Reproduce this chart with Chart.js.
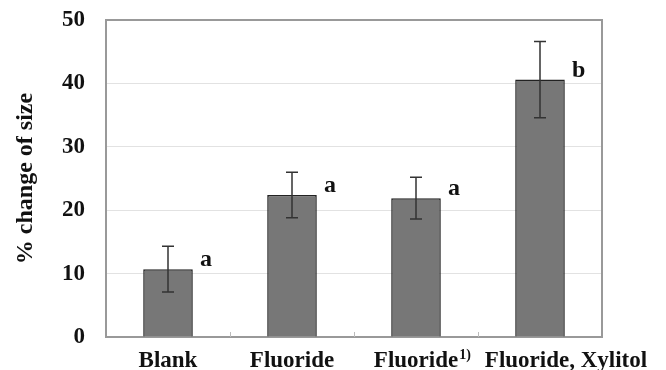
<!DOCTYPE html>
<html>
<head>
<meta charset="utf-8">
<script src="https://cdn.jsdelivr.net/npm/chart.js@4/dist/chart.umd.min.js"></script>
<style>
  html, body { margin: 0; padding: 0; background: #fff; }
  #wrap { width: 666px; height: 370px; position: relative; }
</style>
</head>
<body>
<div id="wrap"><canvas id="c"></canvas></div>
<script>
/* Daten */
const categories = ['Blank', 'Fluoride', 'Fluoride¹⁾', 'Fluoride, Xylitol'];
const means = [10.7, 22.4, 21.9, 40.6];
const errors = [3.6, 3.6, 3.3, 6.0];
const letters = ['a', 'a', 'a', 'b'];
const yTicks = [0, 10, 20, 30, 40, 50];

const FONT = '"Liberation Serif", "Times New Roman", serif';
const SUP = { '¹': '1', '⁾': ')' };

// Fehlerbalken + Signifikanz-Buchstaben
const errorBars = {
  id: 'errorBars',
  afterDatasetsDraw(c) {
    const { ctx } = c; const meta = c.getDatasetMeta(0); const y = c.scales.y;
    ctx.save();
    ctx.strokeStyle = '#333'; ctx.lineWidth = 1.5;
    meta.data.forEach((bar, i) => {
      const yt = y.getPixelForValue(means[i] + errors[i]);
      const yb = y.getPixelForValue(means[i] - errors[i]);
      ctx.beginPath();
      ctx.moveTo(bar.x, yt); ctx.lineTo(bar.x, yb);
      ctx.moveTo(bar.x - 6, yt); ctx.lineTo(bar.x + 6, yt);
      ctx.moveTo(bar.x - 6, yb); ctx.lineTo(bar.x + 6, yb);
      ctx.stroke();
    });
    ctx.fillStyle = '#111'; ctx.font = 'bold 24px ' + FONT;
    ctx.textAlign = 'left'; ctx.textBaseline = 'alphabetic';
    meta.data.forEach((bar, i) => {
      ctx.fillText(letters[i], bar.x + 32, y.getPixelForValue(means[i]) - 3);
    });
    ctx.restore();
  },
};

// Rahmen, innere Teilstriche, x-Beschriftung (mit Hochzahl)
const frame = {
  id: 'frame',
  afterDraw(c) {
    const { ctx, chartArea: a } = c; const x = c.scales.x;
    ctx.save(); ctx.strokeStyle = '#999'; ctx.lineWidth = 2;
    ctx.beginPath(); ctx.moveTo(a.left, a.top); ctx.lineTo(a.right, a.top); ctx.lineTo(a.right, a.bottom); ctx.stroke();
    ctx.strokeStyle = '#bbb'; ctx.lineWidth = 1;
    const step = (a.right - a.left) / categories.length;
    for (let i = 1; i < categories.length; i++) {
      const px = Math.round(a.left + step * i) + 0.5;
      ctx.beginPath(); ctx.moveTo(px, a.bottom); ctx.lineTo(px, a.bottom - 5); ctx.stroke();
    }
    // Labels
    ctx.fillStyle = '#111'; ctx.textBaseline = 'alphabetic'; ctx.textAlign = 'left';
    const big = 'bold 23px ' + FONT, small = 'bold 14px ' + FONT;
    let prevRight = -1e9;
    categories.forEach((lab, i) => {
      const base = lab.replace(/[¹⁾]/g, '');
      const sup = lab.split('').filter(ch => SUP[ch]).map(ch => SUP[ch]).join('');
      ctx.font = big; const wb = ctx.measureText(base).width;
      ctx.font = small; const ws = sup ? ctx.measureText(sup).width + 1 : 0;
      let left = x.getPixelForValue(i) - wb / 2;
      if (left < prevRight + 14) left = prevRight + 14;
      const by = a.bottom + 30;
      ctx.font = big; ctx.fillText(base, left, by);
      if (sup) { ctx.font = small; ctx.fillText(sup, left + wb + 1, by - 8); }
      prevRight = left + wb + ws;
    });
    ctx.restore();
  },
};

new Chart(document.getElementById('c'), {
  type: 'bar',
  data: {
    labels: categories,
    datasets: [{
      data: means,
      backgroundColor: '#777777',
      borderColor: '#222',
      borderWidth: 1.5,
      categoryPercentage: 0.4,
      barPercentage: 1,
    }],
  },
  options: {
    responsive: true, maintainAspectRatio: false, animation: false,
    layout: { padding: { top: 20, right: 64, left: 0, bottom: 0 } },
    plugins: { legend: { display: false }, tooltip: { enabled: false } },
    scales: {
      x: {
        grid: { drawOnChartArea: false, drawTicks: false },
        border: { display: true, color: '#999', width: 2 },
        ticks: { display: false },
        afterFit(s) { s.height = 33; s.paddingLeft = 0; s.paddingRight = 0; },
      },
      y: {
        min: 0, max: 50,
        afterBuildTicks(s) { s.ticks = yTicks.map(v => ({ value: v })); },
        grid: { color: '#e2e2e2', lineWidth: 1, drawTicks: false },
        border: { display: true, color: '#999', width: 2 },
        ticks: { color: '#111', font: { family: FONT, size: 23, weight: 'bold' }, padding: 21 },
        title: { display: true, text: '% change of size', color: '#111', font: { family: FONT, size: 24, weight: 'bold' }, padding: { top: 11, bottom: 0 } },
        afterFit(s) { s.width = 106; s.paddingTop = 0; s.paddingBottom = 0; },
      },
    },
  },
  plugins: [errorBars, frame],
});
</script>
</body>
</html>
